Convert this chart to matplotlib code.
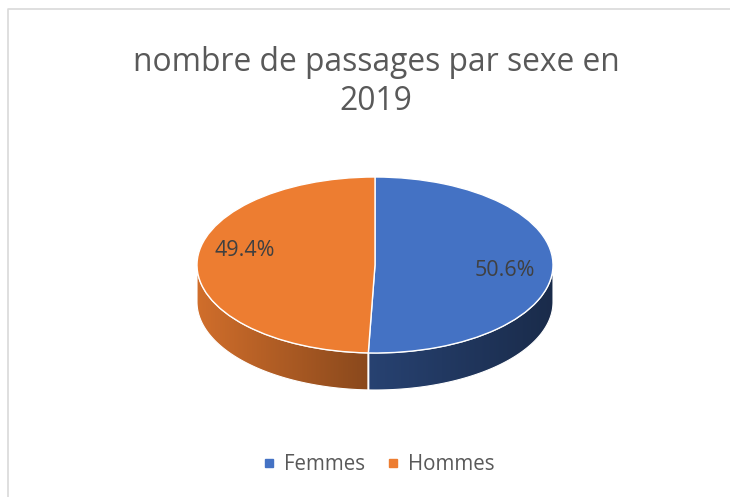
import numpy as np
import matplotlib
matplotlib.use("Agg")
import matplotlib.pyplot as plt
from matplotlib.patches import Wedge, Polygon
from matplotlib.transforms import Affine2D
from matplotlib.lines import Line2D
from matplotlib.colors import to_rgb

# ---- data ----
title = "nombre de passages par sexe en\n2019"
categories = ["Femmes", "Hommes"]
values = [50.6, 49.4]
colors = ["#4472C4", "#ED7D31"]

# ---- layout (pixels, y up) ----
W, H = 730, 497
cx, cy = 375, H - 265
rx, ry = 178, 88
depth = 37
label_r = 0.73
label_dy = [-4, 13]

plt.rcParams['font.family'] = ['Open Sans', 'DejaVu Sans']
fig = plt.figure(figsize=(W / 100, H / 100), dpi=100)
ax = fig.add_axes([0, 0, 1, 1])
ax.set_xlim(0, W)
ax.set_ylim(0, H)
ax.axis('off')

# chart border
ax.plot([8, 8, W], [0, H - 9, H - 9], color="#D9D9D9", lw=1.2, solid_capstyle='butt')

# angles: start at 90 deg, clockwise
total = sum(values)
angles = []
start = 90.0
for v in values:
    sweep = 360.0 * v / total
    angles.append((start - sweep, start))
    start -= sweep

ell = Affine2D().scale(rx, ry).translate(cx, cy) + ax.transData

def shade(x):
    t = (x - (cx - rx)) / (2 * rx)
    return np.interp(t, [0, 0.48, 1.0], [0.88, 0.58, 0.38])

# side walls (front half: 180..360 deg)
for (a1, a2), col in zip(angles, colors):
    a1n, a2n = a1 % 360, a2 % 360
    if a2n <= a1n:
        a2n += 360
    segs = []
    for k in (0, 360):
        lo = max(a1n, 180 + k)
        hi = min(a2n, 360 + k)
        if hi > lo:
            segs.append((lo, hi))
    for lo, hi in segs:
        t = np.radians(np.linspace(lo, hi, 200))
        xt = cx + rx * np.cos(t)
        yt = cy + ry * np.sin(t)
        pts = np.vstack([np.column_stack([xt, yt]),
                         np.column_stack([xt[::-1], yt[::-1] - depth])])
        poly = Polygon(pts, closed=True, facecolor='none', edgecolor='none')
        ax.add_patch(poly)
        xs = np.linspace(xt.min(), xt.max(), 300)
        base = np.array(to_rgb(col))
        img = (shade(xs)[:, None] * base[None, :])[None, :, :]
        im = ax.imshow(img, extent=[xs.min(), xs.max(), yt.min() - depth, yt.max()],
                       aspect='auto', origin='lower', interpolation='bilinear', zorder=2)
        im.set_clip_path(poly)
        edge = Polygon(pts, closed=True, facecolor='none', edgecolor='white', lw=0.8, zorder=3)
        ax.add_patch(edge)
        for a in (a1, a2):
            an = a % 360
            if 180 <= an <= 360:
                xa = cx + rx * np.cos(np.radians(an))
                ya = cy + ry * np.sin(np.radians(an))
                ax.plot([xa, xa], [ya, ya - depth], color='white', lw=1.0, zorder=3)

# top faces
for (a1, a2), col in zip(angles, colors):
    w = Wedge((0, 0), 1, a1, a2, facecolor=col, edgecolor='white', lw=1.0,
              transform=ell, zorder=4)
    ax.add_patch(w)

# data labels
for (a1, a2), v, dy in zip(angles, values, label_dy):
    mid = np.radians((a1 + a2) / 2)
    lx = cx + label_r * rx * np.cos(mid)
    ly = cy + label_r * ry * np.sin(mid) + dy
    ax.text(lx, ly, f"{v:.1f}%", ha='center', va='center', fontsize=15.5,
            color="#404040", zorder=5)

# title
ax.text(376, H - 82, title, ha='center', va='center', fontsize=22.9,
        color="#595959", linespacing=1.22)

# legend
handles = [Line2D([], [], marker='s', linestyle='', color=c, markersize=5.5)
           for c in colors]
leg = ax.legend(handles, categories, loc='center', bbox_to_anchor=(378 / W, 32 / H),
                ncol=2, frameon=False, fontsize=14.8, handlelength=0.7,
                handletextpad=0.4, columnspacing=1.0)
for t in leg.get_texts():
    t.set_color("#595959")

fig.savefig("out.png", dpi=100)
